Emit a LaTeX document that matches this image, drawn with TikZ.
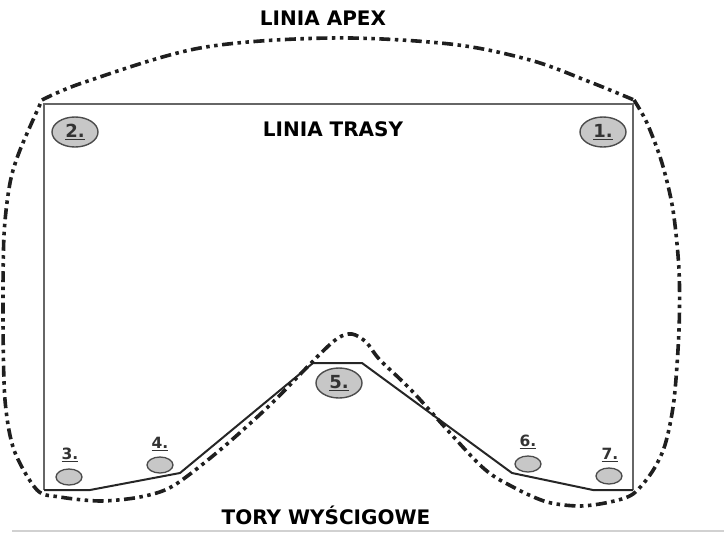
\documentclass[tikz,border=0pt]{standalone}
\usepackage{fontspec}
\setmainfont{DejaVu Sans}
\newcommand\ulnum[1]{\underline{#1}}
\tikzset{
  title/.style={font=\fontsize{20}{22}\selectfont\bfseries, text=black, inner sep=0pt},
  bigell/.style={ellipse, draw=black!70, line width=1.4pt, fill=black!22, minimum width=46pt, minimum height=30pt, inner sep=0pt, font=\fontsize{18}{20}\selectfont\bfseries, text=black!80},
  smallell/.style={ellipse, draw=black!70, line width=1.3pt, fill=black!22, minimum width=26pt, minimum height=16pt, inner sep=0pt},
  numlab/.style={font=\fontsize{15.5}{17}\selectfont\bfseries, text=black!80, inner sep=0pt},
  apex/.style={line width=3.6pt, draw=black!88, dash pattern=on 11pt off 4.5pt on 3.5pt off 4.5pt on 3.5pt off 4.5pt},
  trackrect/.style={line width=2pt, draw=black!60},
  trackline/.style={line width=2pt, draw=black!85, line join=miter},
}
\usetikzlibrary{shapes.geometric}
\begin{document}
\begin{tikzpicture}[x=1pt,y=-1pt]
\useasboundingbox (0,0) rectangle (724,533);
% bottom grey rule
\coordinate (gl) at (12,531);
\coordinate (gr) at (724,531);
\draw[line width=1.5pt, black!18] (gl) -- (gr);
% track rectangle (LINIA TRASY)
\coordinate (tl) at (44,104);
\coordinate (tr) at (633,104);
\coordinate (br) at (633,490);
\coordinate (bl) at (44,490);
\coordinate (b1) at (90,490);
\coordinate (b2) at (180,473);
\coordinate (b3) at (313,363);
\coordinate (b4) at (362,363);
\coordinate (b5) at (512,473);
\coordinate (b6) at (593,490);
\draw[trackrect] (bl) -- (tl) -- (tr) -- (br);
\draw[trackline] (bl) -- (b1) -- (b2) -- (b3) -- (b4) -- (b5) -- (b6) -- (br);
% apex line
\draw[apex] plot[smooth, tension=0.55] coordinates {(42,100) (85,82) (200,48) (330,38) (450,44) (530,60) (590,82) (634,100)};
\draw[apex] plot[smooth, tension=0.5] coordinates {(634,100) (647,123) (662,163) (673,210) (679,270) (679,330) (674,400) (665,445) (652,472) (633,494) (610,502) (580,506) (547,502) (513,487) (480,465) (413,392) (380,360) (366,342) (352,334) (338,338) (318,356) (270,405) (220,450) (173,486) (140,497) (100,501) (60,497) (37,490) (14,450) (5,400) (3,320) (4,235) (10,183) (20,150) (42,100)};
% titles
\node[title] (apexT) at (323,18) {LINIA APEX};
\node[title] (trasyT) at (333,129) {LINIA TRASY};
\node[title] (toryT) at (326,515) {TORY WYŚCIGOWE};
% big ellipses
\node[bigell] (e2) at (75,132) {\ulnum{2.}};
\node[bigell] (e1) at (603,132) {\ulnum{1.}};
\node[bigell] (e5) at (339,383) {\ulnum{5.}};
% small ellipses and labels
\node[smallell] (e3) at (69,477) {};
\node[smallell] (e4) at (160,465) {};
\node[smallell] (e6) at (528,464) {};
\node[smallell] (e7) at (609,476) {};
\node[numlab] (l3) at (70,455) {\ulnum{3.}};
\node[numlab] (l4) at (160,444) {\ulnum{4.}};
\node[numlab] (l6) at (528,442) {\ulnum{6.}};
\node[numlab] (l7) at (610,455) {\ulnum{7.}};
\end{tikzpicture}
\end{document}
